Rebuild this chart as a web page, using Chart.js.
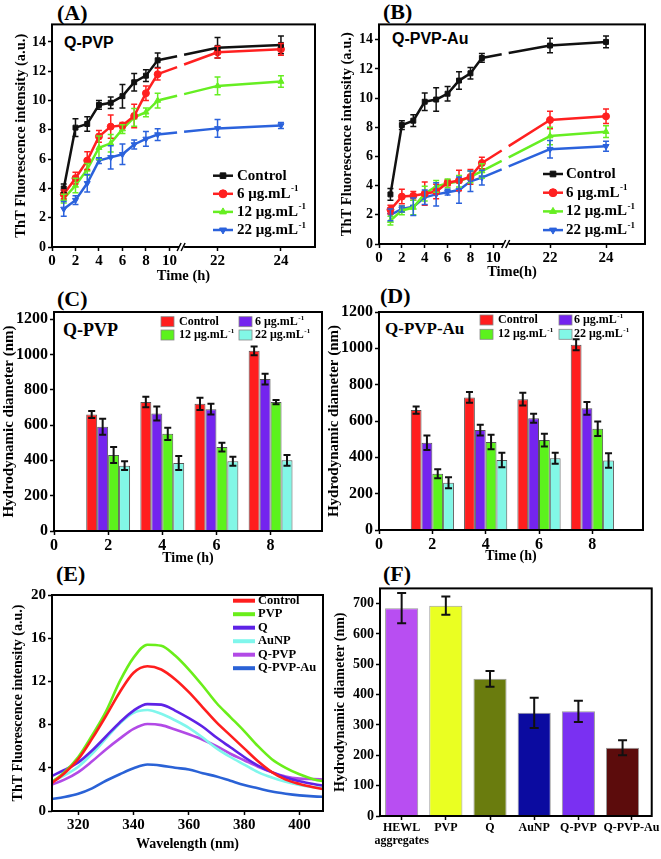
<!DOCTYPE html>
<html><head><meta charset="utf-8">
<script src="https://cdn.jsdelivr.net/npm/chart.js@4.4.1/dist/chart.umd.min.js"></script>
<style>
html,body{margin:0;padding:0;background:#fff}
body{position:relative;width:661px;height:859px;overflow:hidden}
.t{position:absolute;white-space:nowrap;color:#000}
.s{font-family:"Liberation Serif","Times New Roman",serif;font-weight:bold;line-height:1}
.a{font-family:"Liberation Sans",Arial,sans-serif;font-weight:bold;line-height:1}
</style></head><body>
<div class="t s" style="left:57px;top:1.5px;font-size:22px">(A)</div>
<div class="t s" style="left:383px;top:1px;font-size:22px">(B)</div>
<div class="t s" style="left:57px;top:287.5px;font-size:22px">(C)</div>
<div class="t s" style="left:380px;top:285px;font-size:22px">(D)</div>
<div class="t s" style="left:56px;top:563px;font-size:22px">(E)</div>
<div class="t s" style="left:383px;top:563px;font-size:22px">(F)</div>
<div class="t a" style="left:64px;top:34.5px;font-size:16px">Q-PVP</div>
<div class="t a" style="left:392px;top:30.5px;font-size:16px">Q-PVP-Au</div>
<div class="t s" style="left:63px;top:321px;font-size:18px">Q-PVP</div>
<div class="t s" style="left:385px;top:319.5px;font-size:17px">Q-PVP-Au</div>
<script>
// ---------------- DATA ----------------
const timeHours = [1, 2, 3, 4, 5, 6, 7, 8, 9, 22, 24];
const timeTickValues = [0, 2, 4, 6, 8, 10, 22, 24];
const timeTickLabels = ['0', '2', '4', '6', '8', '10', '22', '24'];
const thtTicks = [0, 2, 4, 6, 8, 10, 12, 14];
const seriesNames = ['Control', '6 μg.mL⁻¹', '12 μg.mL⁻¹', '22 μg.mL⁻¹'];

// Panel A : Q-PVP ThT kinetics
const A_control = [4.0, 8.15, 8.4, 9.7, 9.85, 10.3, 11.25, 11.7, 12.75, 13.6, 13.8];
const A_control_err = [0.3, 0.6, 0.5, 0.3, 0.4, 0.8, 0.6, 0.4, 0.5, 0.7, 0.6];
const A_6 = [3.6, 4.7, 5.9, 7.55, 8.22, 8.3, 8.95, 10.5, 11.8, 13.3, 13.5];
const A_6_err = [0.3, 0.4, 0.6, 0.4, 0.8, 0.2, 0.8, 0.5, 0.4, 0.4, 0.4];
const A_12 = [3.3, 4.2, 5.3, 6.78, 7.08, 8.05, 8.85, 9.2, 10.0, 11.0, 11.3];
const A_12_err = [0.3, 0.5, 0.4, 0.8, 0.6, 0.3, 0.6, 0.3, 0.5, 0.6, 0.4];
const A_22 = [2.6, 3.2, 4.35, 5.9, 6.12, 6.33, 7.0, 7.38, 7.68, 8.1, 8.3];
const A_22_err = [0.5, 0.3, 0.6, 0.2, 0.8, 0.7, 0.3, 0.5, 0.4, 0.6, 0.2];

// Panel B : Q-PVP-Au ThT kinetics
const B_control = [3.4, 8.15, 8.45, 9.75, 9.9, 10.3, 11.2, 11.7, 12.75, 13.6, 13.85];
const B_control_err = [0.4, 0.3, 0.4, 0.6, 0.8, 0.5, 0.6, 0.4, 0.3, 0.5, 0.4];
const B_6 = [2.35, 3.25, 3.3, 3.45, 3.6, 4.2, 4.35, 4.6, 5.55, 8.5, 8.75];
const B_6_err = [0.3, 0.5, 0.3, 0.8, 0.5, 0.2, 0.7, 0.5, 0.4, 0.6, 0.5];
const B_12 = [1.6, 2.3, 2.5, 3.45, 3.95, 4.15, 4.3, 4.6, 5.0, 7.4, 7.7];
const B_12_err = [0.3, 0.3, 0.5, 0.5, 0.4, 0.3, 0.4, 0.4, 0.5, 0.6, 0.4];
const B_22 = [2.0, 2.4, 2.55, 3.2, 3.4, 3.55, 3.7, 4.3, 4.55, 6.5, 6.7];
const B_22_err = [0.4, 0.2, 0.6, 0.5, 0.8, 0.2, 0.9, 0.7, 0.5, 0.6, 0.35];

// Panels C, D : hydrodynamic diameter
const dlsHours = [2, 4, 6, 8];
const dlsXTicks = [0, 2, 4, 6, 8];
const dlsYTicks = [0, 200, 400, 600, 800, 1000, 1200];
const C_control = [660, 730, 720, 1020];
const C_control_err = [20, 30, 35, 25];
const C_6 = [590, 665, 690, 860];
const C_6_err = [45, 40, 30, 30];
const C_12 = [430, 550, 475, 730];
const C_12_err = [45, 35, 25, 12];
const C_22 = [370, 385, 395, 400];
const C_22_err = [25, 40, 25, 30];
const D_control = [660, 730, 720, 1020];
const D_control_err = [20, 30, 35, 30];
const D_6 = [480, 550, 615, 670];
const D_6_err = [40, 30, 25, 35];
const D_12 = [310, 485, 495, 557];
const D_12_err = [25, 40, 35, 40];
const D_22 = [260, 385, 395, 382];
const D_22_err = [30, 40, 30, 40];

// Panel E : ThT spectra
const wavelengths = [310, 315, 320, 325, 330, 335, 340, 345, 350, 355, 360, 365, 370, 375, 380, 385, 390, 395, 400, 405, 410];
const wlTicks = [320, 340, 360, 380, 400];
const specYTicks = [0, 4, 8, 12, 16, 20];
const spectraNames = ['Control', 'PVP', 'Q', 'AuNP', 'Q-PVP', 'Q-PVP-Au'];
const E_control = [2.5, 3.5, 4.8, 6.7, 8.8, 11.0, 12.8, 13.4, 13.1, 12.2, 11.0, 9.6, 8.2, 7.0, 5.8, 4.6, 3.6, 2.9, 2.5, 2.2, 1.95];
const E_pvp = [2.6, 3.6, 5.0, 7.0, 9.2, 12.0, 14.2, 15.4, 15.3, 14.4, 13.1, 11.6, 10.0, 8.7, 7.4, 6.0, 4.8, 4.0, 3.4, 2.95, 2.7];
const E_q = [3.2, 3.8, 4.5, 5.6, 6.9, 8.2, 9.3, 9.9, 9.85, 9.3, 8.6, 7.8, 6.8, 5.9, 5.0, 4.2, 3.6, 3.1, 2.75, 2.5, 2.3];
const E_aunp = [2.7, 3.3, 4.1, 5.3, 6.7, 8.1, 9.1, 9.35, 9.0, 8.4, 7.7, 6.8, 5.8, 5.0, 4.3, 3.6, 3.1, 2.7, 2.4, 2.2, 2.1];
const E_qpvp = [2.4, 2.9, 3.6, 4.6, 5.7, 6.7, 7.6, 8.05, 7.95, 7.55, 7.1, 6.6, 6.0, 5.3, 4.7, 4.1, 3.6, 3.2, 3.0, 2.95, 2.9];
const E_qpvpau = [1.1, 1.3, 1.6, 2.1, 2.8, 3.4, 3.95, 4.3, 4.2, 4.0, 3.85, 3.5, 3.2, 2.8, 2.4, 2.1, 1.8, 1.6, 1.45, 1.35, 1.3];

// Panel F : hydrodynamic diameter by sample
const F_categories = [['HEWL', 'aggregates'], 'PVP', 'Q', 'AuNP', 'Q-PVP', 'Q-PVP-Au'];
const F_values = [685, 693, 452, 340, 345, 225];
const F_err = [50, 30, 26, 50, 35, 25];
const F_yTicks = [0, 100, 200, 300, 400, 500, 600, 700];

// ---------------- STYLE ----------------
const SERIF = '"Liberation Serif","Times New Roman",serif';
const lineColors = ['#111111', '#ff2020', '#66ee22', '#2b62dc'];
const pointStyles = ['rect', 'circle', 'triangle', 'triangle'];
const pointRots = [0, 0, 0, 180];
const barColors = ['#ff1e1e', '#7424ee', '#5cf21c', '#82f7e6'];
const specColors = ['#ff1e1e', '#6aee1a', '#5e22e6', '#80f6ec', '#b24ae6', '#2a62d6'];
const F_colors = ['#b84ef2', '#eaff22', '#6a7c0e', '#0b0ba0', '#7a30f2', '#5c0c0c'];

Chart.defaults.font.family = SERIF;
Chart.defaults.font.weight = 'bold';
Chart.defaults.color = '#000';
Chart.defaults.animation = false;
Chart.defaults.events = [];
Chart.defaults.plugins.legend.display = false;
Chart.defaults.plugins.tooltip.enabled = false;

function rich(ctx, text, x, y, size) {
  const parts = text.split('⁻¹');
  ctx.font = 'bold ' + size + 'px ' + SERIF;
  ctx.textBaseline = 'middle'; ctx.textAlign = 'left'; ctx.fillStyle = '#000';
  ctx.fillText(parts[0], x, y);
  if (parts.length > 1) {
    const w = ctx.measureText(parts[0]).width;
    ctx.font = 'bold ' + Math.round(size * 0.62) + 'px ' + SERIF;
    ctx.fillText('-1', x + w + 0.5, y - size * 0.32);
  }
}

const errPlugin = {
  id: 'errbars',
  afterDatasetsDraw(chart, args, o) {
    if (!o || !o.errors) return;
    const ctx = chart.ctx, ys = chart.scales.y;
    ctx.save();
    o.errors.forEach((errs, i) => {
      const meta = chart.getDatasetMeta(i);
      const ds = chart.data.datasets[i];
      ctx.strokeStyle = o.color || ds.borderColor;
      ctx.lineWidth = o.width || 1.5;
      meta.data.forEach((el, j) => {
        const v = ds.data[j].y, e = errs[j];
        const x = el.x, c = o.cap;
        const y1 = ys.getPixelForValue(v + e), y2 = ys.getPixelForValue(v - e);
        ctx.beginPath();
        ctx.moveTo(x, y1); ctx.lineTo(x, y2);
        ctx.moveTo(x - c, y1); ctx.lineTo(x + c, y1);
        ctx.moveTo(x - c, y2); ctx.lineTo(x + c, y2);
        ctx.stroke();
      });
    });
    ctx.restore();
  }
};

const deco = {
  id: 'deco',
  afterDraw(chart, args, o) {
    const ctx = chart.ctx, a = chart.chartArea;
    ctx.save();
    ctx.strokeStyle = '#000'; ctx.lineWidth = 2;
    ctx.strokeRect(a.left, a.top, a.right - a.left, a.bottom - a.top);
    if (o.breakPos != null) {
      const bx = chart.scales.x.getPixelForValue(o.breakPos);
      ctx.fillStyle = '#fff'; ctx.fillRect(bx - 3, a.bottom - 2, 5, 4);
      ctx.lineWidth = 1.5; ctx.beginPath();
      ctx.moveTo(bx - 5, a.bottom + 4); ctx.lineTo(bx - 1, a.bottom - 4);
      ctx.moveTo(bx - 1, a.bottom + 4); ctx.lineTo(bx + 3, a.bottom - 4);
      ctx.stroke();
    }
    if (o.legend) {
      const L = o.legend;
      L.items.forEach(it => {
        const sx = it.sx - o.ox, sy = it.sy - o.oy, tx = it.tx - o.ox;
        if (L.kind === 'line') {
          ctx.strokeStyle = it.color; ctx.lineWidth = 2.5;
          ctx.beginPath(); ctx.moveTo(sx, sy); ctx.lineTo(sx + L.sw, sy); ctx.stroke();
          ctx.fillStyle = it.color; ctx.lineWidth = 1;
          Chart.helpers.drawPoint(ctx, {pointStyle: it.style, radius: 4, rotation: it.rot, borderWidth: 1}, sx + L.sw / 2, sy);
        } else if (L.kind === 'thick') {
          ctx.strokeStyle = it.color; ctx.lineWidth = 4;
          ctx.beginPath(); ctx.moveTo(sx, sy); ctx.lineTo(sx + L.sw, sy); ctx.stroke();
        } else {
          ctx.fillStyle = it.color; ctx.fillRect(sx, sy - 5, 13, 10);
          ctx.strokeStyle = '#888'; ctx.lineWidth = 0.8; ctx.strokeRect(sx, sy - 5, 13, 10);
        }
        rich(ctx, it.text, tx, sy, L.size);
      });
    }
    ctx.restore();
  }
};
Chart.register(errPlugin, deco);

function place(P) {
  const c = document.createElement('canvas');
  c.width = P.W; c.height = P.H;
  c.style.cssText = 'position:absolute;left:' + P.L + 'px;top:' + P.T + 'px;';
  document.body.appendChild(c);
  return c;
}
function layoutFor(P) { return {padding: {top: P.box.t - P.T, right: P.L + P.W - P.box.r, left: 0, bottom: 0}}; }
const gridOpts = {drawOnChartArea: false, drawTicks: true, tickLength: 4, tickWidth: 1.5, tickColor: '#000'};
function yAxis(P, o) {
  return {type: 'linear', position: 'left', min: o.min, max: o.max,
    ticks: {autoSkip: false, font: {size: o.tf, weight: 'bold'}, color: '#000', padding: 2, callback: v => String(v)},
    afterBuildTicks: s => { s.ticks = o.tickValues.map(v => ({value: v})); },
    grid: gridOpts, border: {display: false},
    title: {display: true, text: o.title, color: '#000', font: {size: o.ts, weight: 'bold'},
      padding: Math.max(0, o.cx - P.L - o.ts * 0.6)},
    afterFit: s => { s.width = P.box.l - P.L; }};
}
function xAxis(P, o) {
  const ax = {type: 'linear', position: 'bottom', min: o.min, max: o.max, offset: false,
    ticks: {autoSkip: false, maxRotation: 0, minRotation: 0,
      font: {size: o.tf, weight: 'bold', lineHeight: 1.1}, color: '#000', padding: o.tpadTick != null ? o.tpadTick : 2,
      callback: (v, i) => o.tickLabels ? o.tickLabels[i] : String(v)},
    afterBuildTicks: s => { s.ticks = o.tickValues.map(v => ({value: v})); },
    grid: Object.assign({offset: false}, gridOpts), border: {display: false},
    afterFit: s => { s.height = P.T + P.H - P.box.b; }};
  if (o.title) ax.title = {display: true, text: o.title, color: '#000', font: {size: o.ts, weight: 'bold'},
      padding: Math.max(0, P.T + P.H - o.cy - o.ts * 0.6)};
  return ax;
}

// ---------- Panels A & B (broken time axis) ----------
function kinetic(P, series, errs, p22, p24, xmax, ymax, breakPos, xTitle, xcy, ycx, legItems) {
  const pos = t => t <= 10 ? t : p22 + (t - 22) * (p24 - p22) / 2;
  const pos9 = pos(9), posB = pos(22);
  const dash = ctx => {
    if (ctx.p0DataIndex !== 8) return undefined;
    const dx = ctx.p1.x - ctx.p0.x, dy = ctx.p1.y - ctx.p0.y;
    const len = Math.hypot(dx, dy), k = len / dx;
    const bx = ctx.p0.x + (breakPos - pos9) / (posB - pos9) * dx;
    return [Math.max(0, (bx - 5 - ctx.p0.x) * k), 7 * k, len];
  };
  const datasets = series.map((vals, i) => ({
    label: seriesNames[i],
    data: timeHours.map((t, j) => ({x: pos(t), y: vals[j]})),
    borderColor: lineColors[i], backgroundColor: lineColors[i],
    pointBackgroundColor: lineColors[i], pointBorderColor: lineColors[i],
    borderWidth: 2.5, pointRadius: 3.5, pointBorderWidth: 1,
    pointStyle: pointStyles[i], pointRotation: pointRots[i], tension: 0,
    segment: {borderDash: dash}
  }));
  return new Chart(place(P), {
    type: 'line', data: {datasets},
    options: {responsive: false, layout: layoutFor(P),
      scales: {
        x: xAxis(P, {min: 0, max: xmax, tf: 15, title: xTitle, ts: 14.5, cy: xcy,
          tickValues: timeTickValues.map(pos), tickLabels: timeTickLabels}),
        y: yAxis(P, {min: 0, max: ymax, tickValues: thtTicks, tf: 14, title: 'ThT Fluorescence intensity (a.u.)', ts: 14.5, cx: ycx})
      },
      plugins: {errbars: {errors: errs, cap: 3, width: 1.5},
        deco: {breakPos, ox: P.L, oy: P.T, legend: {kind: 'line', sw: 20, size: 15, items: legItems}}}
    }
  });
}
function lineLegend(sx, tx, y0, dy) {
  return seriesNames.map((n, i) => ({text: n, color: lineColors[i], style: pointStyles[i], rot: pointRots[i], sx, sy: y0 + dy * i, tx}));
}

const PA = {L: 0, T: 14, W: 330, H: 280, box: {l: 52, t: 24, r: 315, b: 247}};
kinetic(PA, [A_control, A_6, A_12, A_22], [A_control_err, A_6_err, A_12_err, A_22_err],
  14.1, 19.5, 22.4, 15.2, 11.08, 'Time (h)', 276, 21, lineLegend(213, 237, 175.7, 18.1));

const PB = {L: 330, T: 14, W: 331, H: 280, box: {l: 379, t: 24, r: 645, b: 244}};
kinetic(PB, [B_control, B_6, B_12, B_22], [B_control_err, B_6_err, B_12_err, B_22_err],
  14.96, 19.86, 23.27, 15.05, 11.17, 'Time(h)', 272, 347, lineLegend(543, 566, 174, 18.7));

// ---------- Panels C & D ----------
function dls(P, series, errs, ymax, ycx, xcy, leg) {
  const datasets = series.map((vals, i) => ({
    label: seriesNames[i],
    data: dlsHours.map((h, j) => ({x: h, y: vals[j]})),
    backgroundColor: barColors[i], borderColor: '#555', borderWidth: 1,
    categoryPercentage: 0.81, barPercentage: 1
  }));
  return new Chart(place(P), {
    type: 'bar', data: {datasets},
    options: {responsive: false, layout: layoutFor(P),
      scales: {
        x: xAxis(P, {min: 0, max: 9.9, tickValues: dlsXTicks, tf: 16, title: 'Time (h)', ts: 14, cy: xcy}),
        y: yAxis(P, {min: 0, max: ymax, tickValues: dlsYTicks, tf: 16, title: 'Hydrodynamic diameter (nm)', ts: 15, cx: ycx})
      },
      plugins: {errbars: {errors: errs, cap: 3.5, width: 2, color: '#111'},
        deco: {ox: P.L, oy: P.T, legend: {kind: 'box', size: 12, items: leg}}}
    }
  });
}
function boxLegend(c1s, c1t, c2s, c2t, r1, r2) {
  return [
    {text: seriesNames[0], color: barColors[0], sx: c1s, tx: c1t, sy: r1},
    {text: seriesNames[1], color: barColors[1], sx: c2s, tx: c2t, sy: r1},
    {text: seriesNames[2], color: barColors[2], sx: c1s, tx: c1t, sy: r2},
    {text: seriesNames[3], color: barColors[3], sx: c2s, tx: c2t, sy: r2}
  ];
}
const PC = {L: 0, T: 300, W: 330, H: 270, box: {l: 54, t: 312, r: 322, b: 531}};
dls(PC, [C_control, C_6, C_12, C_22], [C_control_err, C_6_err, C_12_err, C_22_err], 1240, 8.4, 558,
  boxLegend(161, 179, 239, 255, 321.7, 335));
const PD = {L: 325, T: 300, W: 336, H: 270, box: {l: 379, t: 312, r: 643, b: 530}};
dls(PD, [D_control, D_6, D_12, D_22], [D_control_err, D_6_err, D_12_err, D_22_err], 1200, 334, 556,
  boxLegend(480, 498, 559, 574, 320, 334.3));

// ---------- Panel E ----------
const PE = {L: 0, T: 583, W: 330, H: 276, box: {l: 52, t: 595, r: 323, b: 811}};
const spectra = [E_control, E_pvp, E_q, E_aunp, E_qpvp, E_qpvpau];
new Chart(place(PE), {
  type: 'line',
  data: {datasets: spectra.map((vals, i) => ({
    label: spectraNames[i],
    data: wavelengths.map((w, j) => ({x: w, y: vals[j]})),
    borderColor: specColors[i], borderWidth: 2.6, pointRadius: 0, cubicInterpolationMode: 'monotone'
  }))},
  options: {responsive: false, layout: layoutFor(PE),
    scales: {
      x: xAxis(PE, {min: 310.5, max: 408.5, tickValues: wlTicks, tf: 15, title: 'Wavelength (nm)', ts: 14, cy: 844}),
      y: yAxis(PE, {min: 0, max: 20, tickValues: specYTicks, tf: 15, title: 'ThT Fluorescence intensity (a.u.)', ts: 14, cx: 18})
    },
    plugins: {deco: {ox: PE.L, oy: PE.T, legend: {kind: 'thick', sw: 22, size: 12.5,
      items: spectraNames.map((n, i) => ({text: n, color: specColors[i], sx: 233, tx: 258, sy: 600.7 + 13.5 * i}))}}}
  }
});

// ---------- Panel F ----------
const PF = {L: 325, T: 578, W: 336, H: 281, box: {l: 380, t: 588, r: 653, b: 816}};
const F_pos = [0, 1, 2, 3, 4, 5];
const F_labelPos = [0, 1, 2, 3, 4, 5.2];
new Chart(place(PF), {
  type: 'bar',
  data: {datasets: [{
    label: 'Hydrodynamic diameter',
    data: F_pos.map((p, i) => ({x: p, y: F_values[i]})),
    backgroundColor: F_colors, borderColor: '#999', borderWidth: 1,
    categoryPercentage: 1, barPercentage: 0.75
  }]},
  options: {responsive: false, layout: layoutFor(PF),
    scales: {
      x: xAxis(PF, {min: -0.49, max: 5.66, tf: 12, tpadTick: 1, tickValues: F_labelPos, tickLabels: F_categories}),
      y: yAxis(PF, {min: 0, max: 750, tickValues: F_yTicks, tf: 14, title: 'Hydrodynamic diameter (nm)', ts: 14, cx: 340})
    },
    plugins: {errbars: {errors: [F_err], cap: 4.5, width: 2, color: '#111'}, deco: {ox: PF.L, oy: PF.T}}
  }
});
</script>
</body></html>
